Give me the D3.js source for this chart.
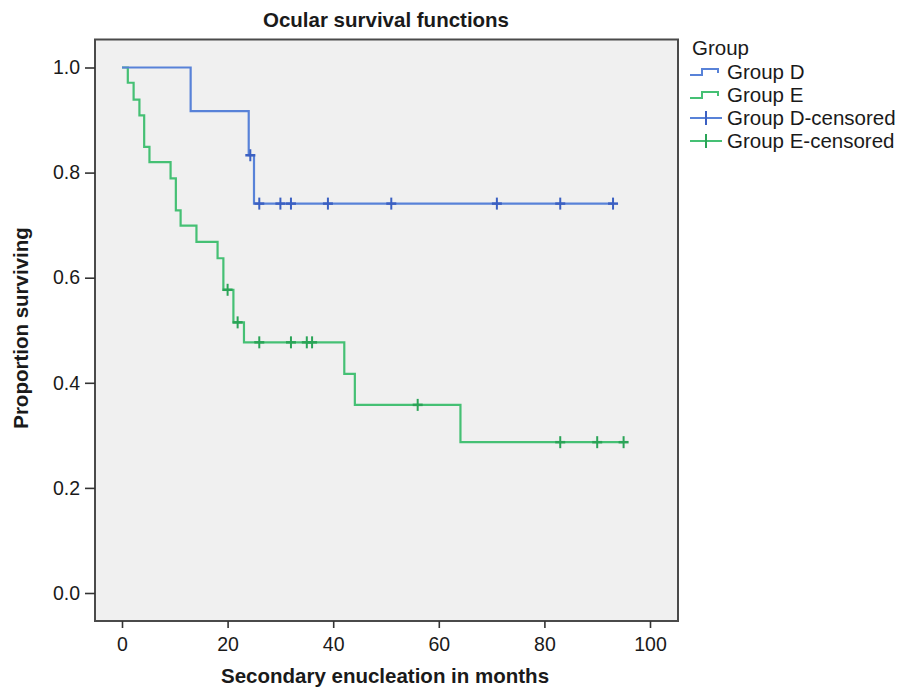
<!DOCTYPE html>
<html>
<head>
<meta charset="utf-8">
<script src="https://cdn.jsdelivr.net/npm/d3@7"></script>
<style>
  body { margin: 0; background: #fff; }
  text { font-family: "Liberation Sans", Arial, sans-serif; fill: #1a1a1a; }
</style>
</head>
<body>
<svg id="chart" width="904" height="693"></svg>
<script>
// Kaplan-Meier steps (months, proportion surviving after the drop)
let dTimes = [0, 13, 24, 25];
let dSurv = [1, 0.917, 0.833, 0.741];
let dCensored = [24.3, 26, 30, 32, 39, 51, 71, 83, 93];

let eTimes = [0, 1.1, 2.2, 3.3, 4.2, 5.2, 9.2, 10.2, 11.1, 14.1, 18.1, 19.2, 21.1, 23.1, 42.1, 44.1, 64.1];
let eSurv = [1, 0.971, 0.939, 0.909, 0.849, 0.820, 0.789, 0.728, 0.699, 0.668, 0.637, 0.577, 0.515, 0.477, 0.417, 0.358, 0.287];
let eCensored = [20, 21.9, 26, 32, 35, 36, 56, 83, 90, 95];

let xTicks = [0, 20, 40, 60, 80, 100];
let yTicks = [0, 0.2, 0.4, 0.6, 0.8, 1.0];
let legendLabels = ["Group D", "Group E", "Group D-censored", "Group E-censored"];

let blue = "#5882d8", blueDark = "#3b60c2";
let green = "#45c074", greenDark = "#2aa457";

let svg = d3.select("#chart");
let frame = {left: 95, top: 39.5, right: 678, bottom: 621};

let x = d3.scaleLinear().domain([0, 100]).range([122, 650]);
let y = d3.scaleLinear().domain([0, 1]).range([593, 67.5]);

// plot background + frame
svg.append("rect")
    .attr("x", frame.left).attr("y", frame.top)
    .attr("width", frame.right - frame.left)
    .attr("height", frame.bottom - frame.top)
    .style("fill", "#f0f0f0")
    .style("stroke", "#4a4a4a")
    .style("stroke-width", 2);

// axes
let yAxis = svg.append("g")
    .attr("transform", `translate(${frame.left},0)`)
    .call(d3.axisLeft(y).tickValues(yTicks).tickFormat(d3.format(".1f")).tickSize(10).tickPadding(5));
let xAxis = svg.append("g")
    .attr("transform", `translate(0,${frame.bottom})`)
    .call(d3.axisBottom(x).tickValues(xTicks).tickSize(7).tickPadding(9));
[xAxis, yAxis].forEach(g => {
    g.select(".domain").remove();
    g.selectAll("line").style("stroke", "#333").style("stroke-width", 1.6);
    g.selectAll("text").style("font-size", "19.5px").style("fill", "#1a1a1a")
        .style("font-family", '"Liberation Sans", Arial, sans-serif');
});

// survival value at time t
function survAt(times, surv, t){
    let s = surv[0];
    for(let i = 0; i < times.length; i++){
        if(times[i] <= t) s = surv[i];
    }
    return s;
}

let line = d3.line()
    .x(d => x(d[0]))
    .y(d => y(d[1]))
    .curve(d3.curveStepAfter);

function drawGroup(times, surv, censored, color, markColor){
    let end = d3.max(censored.concat(times));
    let pts = times.map((t, i) => [t, surv[i]]);
    pts.push([end, surv[surv.length - 1]]);
    svg.append("path")
        .attr("d", line(pts))
        .style("fill", "none")
        .style("stroke", color)
        .style("stroke-width", 2.2);

    let g = svg.append("g");
    censored.forEach(t => {
        let cx = x(t), cy = y(survAt(times, surv, t));
        g.append("line")
            .attr("x1", cx).attr("x2", cx)
            .attr("y1", cy - 6).attr("y2", cy + 6)
            .style("stroke", markColor).style("stroke-width", 2);
        g.append("line")
            .attr("x1", cx - 5).attr("x2", cx + 5)
            .attr("y1", cy).attr("y2", cy)
            .style("stroke", markColor).style("stroke-width", 2.5);
    });
}

drawGroup(eTimes, eSurv, eCensored, green, greenDark);
drawGroup(dTimes, dSurv, dCensored, blue, blueDark);

// titles
svg.append("text")
    .attr("x", 386).attr("y", 27)
    .style("text-anchor", "middle")
    .style("font-size", "20.5px").style("font-weight", "bold")
    .text("Ocular survival functions");

svg.append("text")
    .attr("x", 385).attr("y", 683)
    .style("text-anchor", "middle")
    .style("font-size", "20.5px").style("font-weight", "bold")
    .text("Secondary enucleation in months");

svg.append("text")
    .attr("transform", "translate(28,328) rotate(-90)")
    .style("text-anchor", "middle")
    .style("font-size", "20.5px").style("font-weight", "bold")
    .text("Proportion surviving");

// legend
let legend = svg.append("g").attr("id", "legend");
legend.append("text")
    .attr("x", 692).attr("y", 55)
    .style("font-size", "20.5px")
    .text("Group");

let legendColors = [blue, green, blueDark, greenDark];
legendLabels.forEach((lab, i) => {
    let cy = 72 + i * 23;
    if(i < 2){
        legend.append("path")
            .attr("d", `M690,${cy + 3}H702V${cy - 3}H718V${cy + 1}`)
            .style("fill", "none")
            .style("stroke", legendColors[i])
            .style("stroke-width", 2);
    }else{
        legend.append("line")
            .attr("x1", 690).attr("x2", 722).attr("y1", cy).attr("y2", cy)
            .style("stroke", legendColors[i - 2]).style("stroke-width", 2);
        legend.append("line")
            .attr("x1", 706).attr("x2", 706).attr("y1", cy - 7).attr("y2", cy + 7)
            .style("stroke", legendColors[i]).style("stroke-width", 2);
    }
    legend.append("text")
        .attr("x", 727).attr("y", cy + 7)
        .style("font-size", "20.5px")
        .text(lab);
});
</script>
</body>
</html>
